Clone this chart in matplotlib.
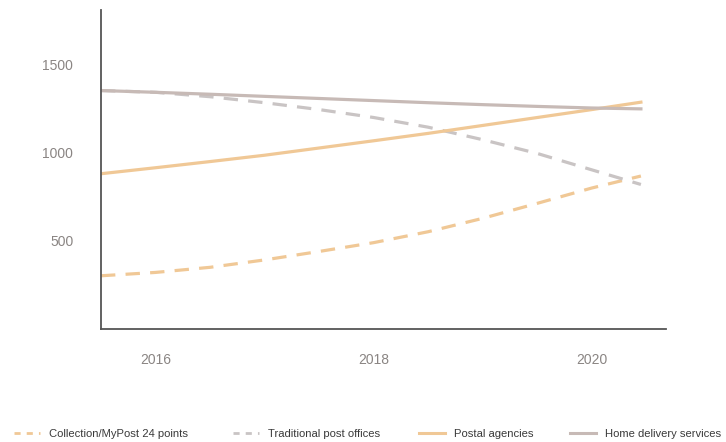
import matplotlib
matplotlib.use('Agg')

import matplotlib.pyplot as plt
from matplotlib.lines import Line2D

plt.rcParams['font.family'] = ['Liberation Sans', 'DejaVu Sans']

years = [2015.5, 2016.0, 2016.5, 2017.0, 2017.5, 2018.0, 2018.5, 2019.0, 2019.5, 2020.0, 2020.45]

collection = [302, 321, 350, 392, 440, 490, 552, 628, 713, 800, 868]
traditional = [1353, 1343, 1318, 1284, 1245, 1200, 1145, 1074, 996, 903, 820]
agencies = [881, 915, 950, 986, 1027, 1068, 1110, 1155, 1200, 1245, 1287]
home = [1353, 1343, 1332, 1320, 1308, 1296, 1284, 1273, 1263, 1254, 1249]

labels = ['Collection/MyPost 24 points', 'Traditional post offices',
          'Postal agencies', 'Home delivery services']
peach = '#f0c896'
grey = '#c9c4c4'
taupe = '#c7bab6'

fig = plt.figure(figsize=(7.26, 4.42), dpi=100)
ax = fig.add_axes([101/726, 1-329/442, (666-101)/726, (329-10)/442])

dash = (4.5, 3.2)
lw = 2.3
ax.plot(years, collection, color=peach, lw=lw, dashes=dash)
ax.plot(years, traditional, color=grey, lw=lw, dashes=dash)
ax.plot(years, agencies, color=peach, lw=lw)
ax.plot(years, home, color=taupe, lw=lw)

ax.set_xlim(2015.5, 2020.68)
ax.set_ylim(0, 1810)
ax.set_xticks([2016, 2018, 2020])
ax.set_yticks([500, 1000, 1500])
ax.tick_params(length=0, labelsize=10, labelcolor='#8a8583')
ax.tick_params(axis='x', pad=17)
ax.tick_params(axis='y', pad=20)
for s in ['top', 'right']:
    ax.spines[s].set_visible(False)
for s in ['left', 'bottom']:
    ax.spines[s].set_color('#555555')
    ax.spines[s].set_linewidth(1.3)

# legend keys are smaller than the plotted lines, and spaced unevenly
handles = [
    Line2D([], [], color=peach, lw=2.0, dashes=(2.2, 2.2)),
    Line2D([], [], color=grey, lw=2.0, dashes=(2.2, 2.2)),
    Line2D([], [], color=peach, lw=2.2),
    Line2D([], [], color=taupe, lw=2.2),
]
xs = [14, 233, 419, 570]
for h, lab, x in zip(handles, labels, xs):
    fig.legend(handles=[h], labels=[lab], loc='center left',
               bbox_to_anchor=(x/726, 1-434/442), frameon=False,
               fontsize=8.1, labelcolor='#3a3a3a', handlelength=2.3,
               handletextpad=0.85, borderpad=0, borderaxespad=0)

fig.savefig('out.png', dpi=100)
